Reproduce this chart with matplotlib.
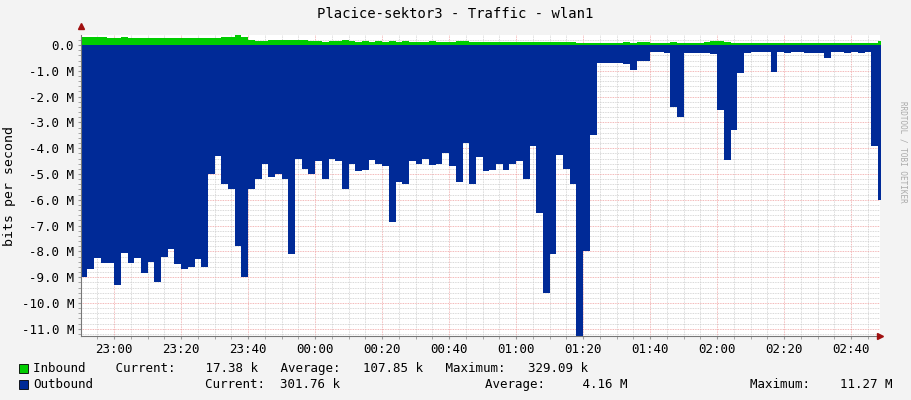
import numpy as np
from matplotlib import pyplot as plt

# minutes relative to 23:00, sample every 2 min
start_min = -10
step_min = 2

outbound_m = [
    9.0, 8.7, 8.25, 8.45, 8.45, 9.3, 8.05, 8.45, 8.25, 8.85,
    8.4, 9.2, 8.2, 7.9, 8.5, 8.7, 8.6, 8.3, 8.6, 5.0,
    4.3, 5.4, 5.6, 7.8, 9.0, 5.6, 5.2, 4.6, 5.1, 5.0,
    5.2, 8.1, 4.4, 4.8, 5.0, 4.5, 5.2, 4.4, 4.5, 5.6,
    4.6,
    4.9, 4.85, 4.46, 4.6, 4.7, 6.85, 5.3, 5.4, 4.5, 4.6,
    4.4, 4.65, 4.6, 4.2, 4.7, 5.3, 3.8, 5.4, 4.35, 4.9,
    4.85, 4.6, 4.85, 4.6, 4.5, 5.2, 3.9, 6.5, 9.6, 8.1,
    4.25, 4.8, 5.4, 11.27, 8.0, 3.5,
    0.7, 0.7,
    0.71, 0.71, 0.75, 0.95, 0.6, 0.6, 0.26, 0.26, 0.3, 2.4,
    2.8, 0.3, 0.3, 0.3, 0.3, 0.35, 2.5, 4.45, 3.3, 1.1,
    0.3, 0.28, 0.27, 0.27, 1.05, 0.27, 0.3, 0.28, 0.28, 0.3,
    0.3, 0.3, 0.52, 0.28, 0.28, 0.3, 0.28, 0.3, 0.28,
    3.9, 6.0, 2.4,
]

inbound_m = [
    0.30, 0.31, 0.30, 0.30, 0.29, 0.28, 0.30, 0.29, 0.28, 0.27,
    0.28, 0.29, 0.28, 0.27, 0.28, 0.27, 0.28, 0.28, 0.27, 0.28,
    0.29, 0.30, 0.32, 0.38, 0.30, 0.18, 0.16, 0.17, 0.18, 0.20,
    0.21, 0.20, 0.20, 0.18, 0.16, 0.15, 0.13, 0.15, 0.17, 0.20,
    0.15, 0.13, 0.14, 0.12, 0.14, 0.13, 0.15, 0.13, 0.14, 0.13,
    0.12, 0.13, 0.15, 0.13, 0.12, 0.13, 0.14, 0.15, 0.13, 0.12,
    0.13, 0.12, 0.13, 0.11, 0.12, 0.11, 0.12, 0.11, 0.10, 0.10,
    0.11, 0.12, 0.10, 0.10, 0.09, 0.08, 0.09, 0.08, 0.08, 0.08,
    0.09, 0.10, 0.08, 0.10, 0.12, 0.08, 0.08, 0.09, 0.12, 0.08,
    0.08, 0.09, 0.08, 0.10, 0.14, 0.16, 0.12, 0.08, 0.08, 0.09,
    0.08, 0.08, 0.08, 0.08, 0.09, 0.08, 0.08, 0.08, 0.08, 0.08,
    0.08, 0.08, 0.08, 0.08, 0.08, 0.08, 0.08, 0.08, 0.08, 0.14,
    0.10,
]

time_labels = ['23:00', '23:20', '23:40', '00:00', '00:20', '00:40',
               '01:00', '01:20', '01:40', '02:00', '02:20', '02:40']
y_ticks = list(range(0, -12, -1))

n = len(outbound_m)
minutes = start_min + step_min * np.arange(n + 1)
out_vals = -np.array(outbound_m + [outbound_m[-1]])
in_vals = np.array(inbound_m[:n] + [inbound_m[n - 1]])

plt.rcParams['font.family'] = ['DejaVu Sans Mono']
fig = plt.figure(figsize=(9.11, 4.0), dpi=100, facecolor='#f3f3f3')
ax = fig.add_axes([81 / 911, 1 - 336 / 400, 799 / 911, 301 / 400])
ax.set_facecolor('white')

ax.fill_between(minutes, 0, out_vals, step='post', color='#002a97', lw=0, zorder=3)
ax.fill_between(minutes, 0, in_vals, step='post', color='#00cc00', lw=0, zorder=3)

ax.set_xlim(-9.9, 228.6)
ax.set_ylim(-11.28, 0.39)

ax.set_xticks(np.arange(0, 221, 20))
ax.set_xticklabels(time_labels)
ax.set_xticks(np.arange(-5, 229, 5), minor=True)
ax.set_yticks(y_ticks)
ax.set_yticklabels(['0.0'] + ['%.1f M' % v for v in y_ticks[1:]])
ax.set_yticks(np.arange(-11.2, 0.39, 0.2), minor=True)

ax.grid(which='minor', color='#cccccc', lw=0.6, ls=(0, (1, 1)), zorder=1)
ax.grid(which='major', color='#f0a0a0', lw=0.6, ls=(0, (1, 1)), zorder=2)
ax.tick_params(which='both', length=2, color='#999999', labelsize=9, pad=3)
for side in ['top', 'right']:
    ax.spines[side].set_visible(False)
for side in ['left', 'bottom']:
    ax.spines[side].set_color('#777777')
    ax.spines[side].set_zorder(5)
ax.plot(1, 0, '>', color='#a01010', ms=4, transform=ax.transAxes, clip_on=False, zorder=6)
ax.plot(0, 1.03, '^', color='#a01010', ms=4, transform=ax.transAxes, clip_on=False, zorder=6)

ax.set_ylabel('bits per second', fontsize=9.5, labelpad=4)
fig.text(0.5, 1 - 14 / 400, 'Placice-sektor3 - Traffic - wlan1', ha='center', va='center', fontsize=10)
fig.text(903 / 911, 0.62, 'RRDTOOL / TOBI OETIKER', rotation=270, ha='center', va='center',
         fontsize=5.5, color='#aaaaaa')

fs = 9
fig.patches.append(plt.Rectangle((19 / 911, 1 - 373 / 400), 9 / 911, 9 / 400, transform=fig.transFigure,
                                 facecolor='#00cc00', edgecolor='black', lw=0.6))
fig.patches.append(plt.Rectangle((19 / 911, 1 - 389 / 400), 9 / 911, 9 / 400, transform=fig.transFigure,
                                 facecolor='#002a97', edgecolor='black', lw=0.6))
y1 = 1 - 368.5 / 400
y2 = 1 - 384.5 / 400
fig.text(33 / 911, y1, 'Inbound    Current:    17.38 k   Average:   107.85 k   Maximum:   329.09 k',
         va='center', fontsize=fs)
fig.text(33 / 911, y2, 'Outbound', va='center', fontsize=fs)
fig.text(205 / 911, y2, 'Current:  301.76 k', va='center', fontsize=fs)
fig.text(485 / 911, y2, 'Average:     4.16 M', va='center', fontsize=fs)
fig.text(750 / 911, y2, 'Maximum:    11.27 M', va='center', fontsize=fs)

fig.savefig('out.png', dpi=100, facecolor=fig.get_facecolor())
